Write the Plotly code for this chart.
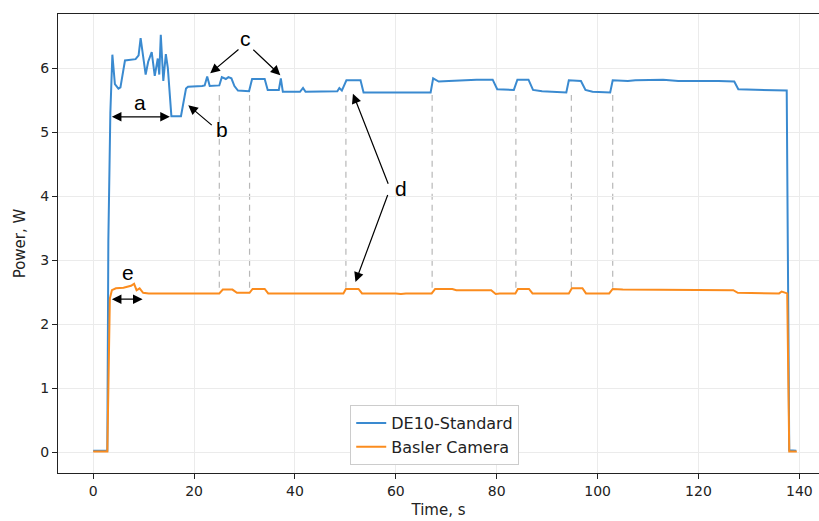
import plotly.graph_objects as go

# ---- data ----
de10_time = [0, 2.8, 3.0, 3.4, 3.8, 4.3, 5.0, 5.4, 6.3, 8.4, 9.0, 9.4, 10.4, 10.9, 11.6, 12.2,
             12.8, 13.1, 13.4, 13.9, 14.4, 14.8, 15.5, 17.4, 18.4, 18.8, 21.6, 22.1, 22.6, 23.1,
             25.0, 25.5, 26.3, 26.8, 27.4, 28.0, 28.7, 30.9, 31.5, 34.0, 34.6, 36.8, 37.2, 37.6,
             41.0, 41.6, 42.1, 48.4, 48.8, 49.3, 50.2, 53.0, 53.6, 66.9, 67.4, 68.5, 70.5, 73.0,
             76.0, 79.2, 80.1, 83.4, 84.1, 86.3, 87.2, 89.0, 93.8, 94.3, 96.7, 97.6, 99.0, 102.5,
             103.0, 106.0, 107.5, 113.0, 116.0, 124.0, 127.1, 127.9, 131.0, 137.5, 138.0, 139.4]
de10_power = [0.02, 0.02, 3.3, 5.3, 6.21, 5.75, 5.68, 5.7, 6.12, 6.14, 6.2, 6.47, 5.9, 6.1, 6.25, 5.88,
              6.15, 5.9, 6.52, 5.8, 6.22, 6.0, 5.25, 5.25, 5.68, 5.71, 5.72, 5.73, 5.87, 5.72,
              5.73, 5.86, 5.83, 5.86, 5.84, 5.72, 5.65, 5.64, 5.83, 5.83, 5.66, 5.66, 5.84, 5.63,
              5.63, 5.69, 5.63, 5.64, 5.69, 5.65, 5.81, 5.81, 5.62, 5.62, 5.84, 5.79, 5.8, 5.81,
              5.82, 5.82, 5.67, 5.66, 5.82, 5.82, 5.66, 5.64, 5.62, 5.81, 5.8, 5.66, 5.63, 5.62,
              5.81, 5.8, 5.81, 5.82, 5.8, 5.8, 5.79, 5.67, 5.66, 5.65, 0.03, 0.02]

cam_time = [0, 2.8, 3.3, 3.7, 4.5, 6.0, 7.5, 8.1, 8.6, 9.2, 9.9, 11.0, 25.0, 25.7, 27.6, 28.5,
            31.0, 31.6, 34.0, 34.7, 49.6, 50.1, 52.6, 53.3, 60.0, 61.0, 62.0, 67.1, 67.8, 71.2,
            72.0, 78.9, 79.8, 80.6, 83.7, 84.2, 86.4, 87.1, 94.3, 94.9, 97.0, 97.7, 102.3, 103.0,
            105.0, 119.6, 120.0, 126.9, 127.8, 136.0, 136.5, 137.2, 137.6, 138.0, 139.5]
cam_power = [0.01, 0.01, 2.4, 2.53, 2.56, 2.57, 2.6, 2.63, 2.53, 2.56, 2.49, 2.48, 2.48, 2.54, 2.54, 2.49,
             2.49, 2.55, 2.55, 2.48, 2.48, 2.55, 2.55, 2.48, 2.48, 2.47, 2.48, 2.48, 2.55, 2.55,
             2.53, 2.53, 2.47, 2.48, 2.48, 2.55, 2.55, 2.48, 2.48, 2.56, 2.56, 2.48, 2.48, 2.55,
             2.54, 2.54, 2.53, 2.53, 2.49, 2.48, 2.51, 2.49, 2.48, 0.01, 0.01]

marker_times = [25.0, 31.0, 50.1, 67.2, 83.8, 94.8, 103.0]

x_ticks = [0, 20, 40, 60, 80, 100, 120, 140]
y_ticks = [0, 1, 2, 3, 4, 5, 6]

series_names = ["DE10-Standard", "Basler Camera"]
x_title = "Time, s"
y_title = "Power, W"

BLUE = "#3a8ad0"
ORANGE = "#fb8c1e"

fig = go.Figure()
fig.add_trace(go.Scatter(x=de10_time, y=de10_power, mode="lines", name=series_names[0],
                         line=dict(color=BLUE, width=2)))
fig.add_trace(go.Scatter(x=cam_time, y=cam_power, mode="lines", name=series_names[1],
                         line=dict(color=ORANGE, width=2)))

shapes = []
for t in marker_times:
    shapes.append(dict(type="line", xref="x", yref="y", x0=t, x1=t, y0=2.57, y1=5.58,
                       line=dict(color="#b8b8b8", width=1.2, dash="6px,5px"), layer="below"))

ann_font = dict(family="Liberation Sans, Arial, sans-serif", size=21, color="black")
annotations = []


def arrow(x_head, y_head, x_tail, y_tail, both=False):
    annotations.append(dict(x=x_head, y=y_head, ax=x_tail, ay=y_tail, xref="x", yref="y",
                            axref="x", ayref="y", text="", showarrow=True, arrowhead=2,
                            arrowsize=1.6, arrowwidth=1.2, arrowcolor="black",
                            arrowside="end+start" if both else "end", startarrowhead=2,
                            startarrowsize=1.6, standoff=0, startstandoff=0))


def label(x, y, s):
    annotations.append(dict(x=x, y=y, xref="x", yref="y", text=s, showarrow=False, font=ann_font))


# a
arrow(15.2, 5.24, 3.4, 5.24, both=True)
label(9.3, 5.47, "a")
# b
arrow(18.85, 5.42, 23.8, 5.09)
label(25.6, 5.04, "b")
# c
arrow(23.2, 5.92, 29.1, 6.31)
arrow(37.1, 5.89, 31.45, 6.31)
label(30.1, 6.47, "c")
# d
arrow(51.5, 5.6, 58.6, 4.17)
arrow(52.0, 2.66, 58.5, 4.04)
label(61.0, 4.12, "d")
# e
arrow(9.8, 2.39, 3.4, 2.39, both=True)
label(6.9, 2.81, "e")

tick_font = dict(family="DejaVu Sans, sans-serif", size=14, color="#222222")
axis_common = dict(showgrid=True, gridcolor="#ebebeb", gridwidth=1, zeroline=False,
                   showline=True, linecolor="#222222", linewidth=1.2, ticks="outside",
                   ticklen=5, tickwidth=1.2, tickcolor="#222222", tickfont=tick_font)

fig.update_layout(
    width=819, height=521,
    margin=dict(l=58, r=0, t=14, b=48),
    plot_bgcolor="white", paper_bgcolor="white",
    font=dict(family="DejaVu Sans, sans-serif", size=14, color="#222222"),
    xaxis=dict(range=[-6.98, 143.9], tickvals=x_ticks, mirror=True,
               title=dict(text=x_title, standoff=6, font=dict(size=15)), automargin=False,
               **axis_common),
    yaxis=dict(range=[-0.326, 6.846], tickvals=y_ticks, mirror=False,
               title=dict(text=y_title, standoff=10, font=dict(size=15)), automargin=False,
               **axis_common),
    legend=dict(x=0.384, y=0.148, xanchor="left", yanchor="top", bgcolor="white",
                bordercolor="#cccccc", borderwidth=1, font=dict(size=16)),
    shapes=shapes,
    annotations=annotations,
    showlegend=True,
)

fig.write_html("out.html", config={"displayModeBar": False},
               post_script="document.body.style.margin='0';document.body.style.overflow='hidden';")
